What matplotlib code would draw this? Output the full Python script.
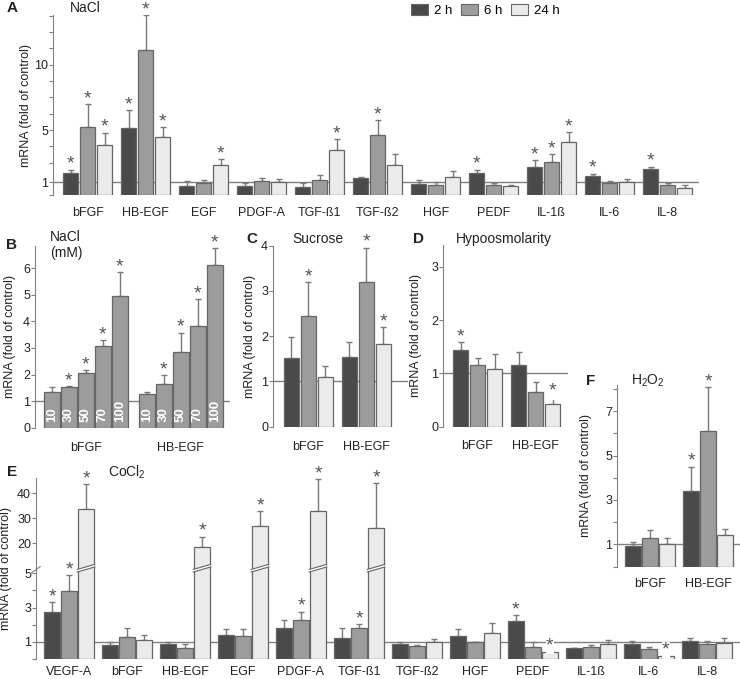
import numpy as np
import matplotlib
matplotlib.use("Agg")
import matplotlib.pyplot as plt
from matplotlib.patches import Patch, Polygon
from matplotlib.transforms import blended_transform_factory

plt.rcParams['font.family'] = ['Liberation Sans', 'DejaVu Sans']
plt.rcParams['mathtext.default'] = 'regular'

# ---- data ----
times = ['2 h', '6 h', '24 h']

a_genes = ['bFGF', 'HB-EGF', 'EGF', 'PDGF-A', 'TGF-ß1', 'TGF-ß2', 'HGF', 'PEDF', 'IL-1ß', 'IL-6', 'IL-8']
a_2h = [1.72, 5.18, 0.74, 0.74, 0.62, 1.33, 0.85, 1.72, 2.18, 1.49, 2.00]
a_2h_err = [0.25, 1.32, 0.39, 0.21, 0.30, 0.08, 0.35, 0.25, 0.52, 0.18, 0.20]
a_6h = [5.26, 11.15, 0.97, 1.08, 1.18, 4.59, 0.82, 0.82, 2.59, 0.92, 0.82]
a_6h_err = [1.74, 2.65, 0.23, 0.28, 0.36, 1.15, 0.23, 0.15, 0.54, 0.21, 0.15]
a_24h = [3.85, 4.46, 2.30, 1.05, 3.44, 2.36, 1.44, 0.72, 4.05, 1.03, 0.59]
a_24h_err = [0.95, 0.74, 0.50, 0.18, 0.84, 0.84, 0.46, 0.10, 0.77, 0.25, 0.18]
a_star_2h = [1, 1, 0, 0, 0, 0, 0, 1, 1, 1, 1]
a_star_6h = [1, 1, 0, 0, 0, 1, 0, 0, 1, 0, 0]
a_star_24h = [1, 1, 1, 0, 1, 0, 0, 0, 1, 0, 0]

b_genes = ['bFGF', 'HB-EGF']
b_doses = ['10', '30', '50', '70', '100']
b_bfgf = [1.33, 1.55, 2.04, 3.09, 4.97]
b_bfgf_err = [0.19, 0.02, 0.12, 0.22, 0.89]
b_hbegf = [1.25, 1.66, 2.86, 3.84, 6.14]
b_hbegf_err = [0.08, 0.32, 0.72, 1.01, 0.61]
b_star_bfgf = [0, 1, 1, 1, 1]
b_star_hbegf = [0, 1, 1, 1, 1]

two_genes = ['bFGF', 'HB-EGF']
c_vals = [[1.52, 1.53], [2.44, 3.19], [1.09, 1.83]]
c_errs = [[0.47, 0.34], [0.76, 0.77], [0.25, 0.38]]
c_stars = [[0, 0], [1, 1], [0, 1]]

d_vals = [[1.44, 1.15], [1.15, 0.66], [1.08, 0.42]]
d_errs = [[0.15, 0.26], [0.14, 0.18], [0.29, 0.15]]
d_stars = [[1, 0], [0, 0], [0, 1]]

f_vals = [[0.92, 3.42], [1.27, 6.09], [1.03, 1.43]]
f_errs = [[0.17, 1.08], [0.36, 1.98], [0.27, 0.25]]
f_stars = [[0, 1], [0, 1], [0, 0]]

e_genes = ['VEGF-A', 'bFGF', 'HB-EGF', 'EGF', 'PDGF-A', 'TGF-ß1', 'TGF-ß2', 'HGF', 'PEDF', 'IL-1ß', 'IL-6', 'IL-8']
e_2h = [2.72, 0.82, 0.86, 1.40, 1.81, 1.24, 0.88, 1.36, 2.19, 0.62, 0.88, 1.04]
e_2h_err = [0.58, 0.14, 0.14, 0.35, 0.48, 0.57, 0.12, 0.41, 0.35, 0.04, 0.16, 0.18]
e_6h = [3.95, 1.30, 0.62, 1.34, 2.29, 1.81, 0.74, 0.96, 0.68, 0.70, 0.56, 0.88]
e_6h_err = [0.97, 0.51, 0.24, 0.41, 0.47, 0.24, 0.08, 0.04, 0.32, 0.12, 0.12, 0.16]
e_24h = [33.6, 1.10, 18.4, 26.9, 32.9, 26.0, 0.96, 1.53, 0.41, 0.86, 0.15, 0.94]
e_24h_err = [10.0, 0.30, 4.3, 6.0, 12.7, 18.3, 0.20, 0.57, 0.06, 0.26, 0.04, 0.28]
e_star_2h = [1, 0, 0, 0, 0, 0, 0, 0, 1, 0, 0, 0]
e_star_6h = [1, 0, 0, 0, 1, 1, 0, 0, 0, 0, 0, 0]
e_star_24h = [1, 0, 1, 1, 1, 1, 0, 0, 1, 0, 1, 0]

# ---- style ----
W, H = 740, 679
COLS = ['#4a4a4a', '#9c9c9c', '#ebebeb']
EDGE = '#666666'
GRAY = '#808080'
TXT = '#222222'
STEP = 17 / 58.0      # bar pitch inside a group
BW = 15.5 / 58.0      # bar width

fig = plt.figure(figsize=(W / 100, H / 100), dpi=100)


def add_ax(l, t, r, b):
    ax = fig.add_axes([l / W, 1 - b / H, (r - l) / W, (b - t) / H])
    ax.patch.set_alpha(0)
    for s in ['top', 'right', 'bottom']:
        ax.spines[s].set_visible(False)
    ax.spines['left'].set_color(GRAY)
    ax.tick_params(axis='y', direction='out', length=2.6, pad=1, color=GRAY,
                   labelsize=9, labelcolor=TXT, width=0.8)
    ax.tick_params(axis='x', length=0, labelsize=9, labelcolor=TXT)
    return ax


def star(ax, x, top, bg=False):
    t = ax.annotate('*', (x, top), xytext=(0, 0.5), textcoords='offset points',
                    ha='center', va='baseline', fontsize=14, color='#555555', zorder=6)
    if bg:
        t.set_bbox(dict(facecolor='white', edgecolor='none', pad=0.2))


def bars(ax, x, vals, errs, color, stars=None):
    ax.bar(x, vals, width=BW, color=color, edgecolor=EDGE, linewidth=0.9, zorder=3)
    ax.errorbar(x, vals, yerr=[np.zeros(len(vals)), errs], fmt='none',
                ecolor='#7a7a7a', elinewidth=1, capsize=2.5, capthick=1, zorder=2)
    if stars is not None:
        for xi, v, e, s in zip(x, vals, errs, stars):
            if s:
                star(ax, xi, v + e, bg=(v + e) < 1.3)


def panel_text(ax, letter, title, xl, tl, y):
    fig.text(xl / W, 1 - y / H, letter, fontsize=11, fontweight='bold', va='center', ha='left', color=TXT)
    fig.text(tl / W, 1 - y / H, title, fontsize=10, va='center', ha='left', color=TXT)


def ylab(ax, xpx, l, r):
    # label anchor is its right edge once rotated
    ax.set_ylabel('mRNA (fold of control)', fontsize=9, color=TXT)
    ax.yaxis.set_label_coords((xpx + 4.5 - l) / (r - l), 0.5)


# ---- panel A ----
axA = add_ax(53, 15, 699, 195.4)
g = np.arange(len(a_genes))
for k, (v, e, s) in enumerate([(a_2h, a_2h_err, a_star_2h), (a_6h, a_6h_err, a_star_6h),
                                (a_24h, a_24h_err, a_star_24h)]):
    bars(axA, g + (k - 1) * STEP, v, e, COLS[k], s)
axA.axhline(1, color=GRAY, lw=1, zorder=1)
axA.set_xlim(-0.598, 10.54)
axA.set_ylim(0, 13.8)
axA.set_yticks([0, 1, 2.5, 3.75, 5, 6.25, 7.5, 8.75, 10, 11.25, 12.5, 13.75])
axA.set_yticklabels(['', '1', '', '', '5', '', '', '', '10', '', '', ''])
axA.set_xticks(g)
axA.set_xticklabels(a_genes)
axA.tick_params(axis='x', pad=8)
ylab(axA, 28, 53, 699)
panel_text(axA, 'A', 'NaCl', 7, 70, 8)

fig.legend([Patch(facecolor=c, edgecolor=EDGE, linewidth=0.8) for c in COLS], times,
           loc='upper left', bbox_to_anchor=(408 / W, 1 - 1 / H), ncol=3, frameon=False,
           fontsize=9.5, handlelength=1.3, handleheight=0.9, handletextpad=0.5,
           columnspacing=0.6, borderaxespad=0, borderpad=0.2)

# ---- panel B ----
axB = add_ax(35, 245.7, 230, 427.7)
G = 5.59
xb = np.arange(5)
for gi, (v, e, s) in enumerate([(b_bfgf, b_bfgf_err, b_star_bfgf), (b_hbegf, b_hbegf_err, b_star_hbegf)]):
    xs = xb + gi * G
    axB.bar(xs, v, width=15.6 / 17, color=COLS[1], edgecolor=EDGE, linewidth=0.9, zorder=3)
    axB.errorbar(xs, v, yerr=[np.zeros(5), e], fmt='none', ecolor='#7a7a7a',
                 elinewidth=1, capsize=2.5, capthick=1, zorder=2)
    for xi, vi, ei, si, d in zip(xs, v, e, s, b_doses):
        if si:
            star(axB, xi, vi + ei)
        axB.text(xi, 0.2, d, rotation=90, ha='center', va='bottom', color='white',
                 fontsize=9.5, fontweight='bold', zorder=5)
axB.axhline(1, color=GRAY, lw=1, zorder=1)
axB.set_xlim(-0.99, 10.48)
axB.set_ylim(0, 6.85)
axB.set_yticks(range(7))
axB.set_xticks([2, 2 + G])
axB.set_xticklabels(b_genes)
axB.tick_params(axis='x', pad=10)
ylab(axB, 12, 35, 230)
panel_text(axB, 'B', 'NaCl\n(mM)', 6, 50, 245)


def small_panel(ax, vals, errs, stars):
    gg = np.arange(2)
    for k in range(3):
        bars(ax, gg + (k - 1) * STEP, vals[k], errs[k], COLS[k], stars[k])
    ax.axhline(1, color=GRAY, lw=1, zorder=1)
    ax.set_xticks(gg)
    ax.set_xticklabels(two_genes)


# ---- panel C ----
axC = add_ax(273, 245.7, 408, 426.7)
small_panel(axC, c_vals, c_errs, c_stars)
axC.set_xlim(-0.612, 1.716)
axC.set_ylim(0, 4)
axC.set_yticks(range(5))
axC.tick_params(axis='x', pad=10)
ylab(axC, 252, 273, 408)
panel_text(axC, 'C', 'Sucrose', 246, 292, 239)

# ---- panel D ----
axD = add_ax(443, 245, 567.7, 426.7)
small_panel(axD, d_vals, d_errs, d_stars)
axD.set_xlim(-0.595, 1.555)
axD.set_ylim(0, 3.41)
axD.set_yticks(range(4))
axD.tick_params(axis='x', pad=9.5)
ylab(axD, 418, 443, 567.7)
panel_text(axD, 'D', 'Hypoosmolarity', 413, 456, 239)

# ---- panel F ----
axF = add_ax(617, 385, 740, 566.5)
small_panel(axF, f_vals, f_errs, f_stars)
axF.set_xlim(-0.569, 1.552)
axF.set_ylim(0, 8.18)
axF.set_yticks(range(9))
axF.set_yticklabels(['', '1', '', '3', '', '5', '', '7', ''])
axF.tick_params(axis='x', pad=8.5)
ylab(axF, 588, 617, 740)
panel_text(axF, 'F', 'H$_2$O$_2$', 586, 631, 381)

# ---- panel E (broken axis) ----
xp = [0, 5, 10, 60]
fp = [0, 5, 5.292, 6.754 + 40 * 0.1462]


def fwd(v):
    return np.interp(v, xp, fp)


def inv(t):
    return np.interp(t, fp, xp)


axE = add_ax(36, 477.7, 740, 658.8)
axE.set_yscale('function', functions=(fwd, inv))
ge = np.arange(len(e_genes))
for k, (v, e, s) in enumerate([(e_2h, e_2h_err, e_star_2h), (e_6h, e_6h_err, e_star_6h),
                                (e_24h, e_24h_err, e_star_24h)]):
    bars(axE, ge + (k - 1) * STEP, v, e, COLS[k], s)
axE.axhline(1, color=GRAY, lw=1, zorder=1)
ytop = 46.3
axE.set_xlim(-0.569, 11.57)
axE.set_ylim(0, ytop)
axE.set_yticks([0, 1, 2, 3, 4, 5, 20, 30, 40])
axE.set_yticklabels(['', '1', '', '3', '', '5', '20', '30', '40'])
axE.yaxis.set_minor_locator(matplotlib.ticker.NullLocator())
axE.set_xticks(ge)
axE.set_xticklabels(e_genes)
axE.tick_params(axis='x', pad=5)
ylab(axE, 7, 36, 740)
panel_text(axE, 'E', 'CoCl$_2$', 7, 108, 472)

# break marks on tall bars and on the spine
tr = blended_transform_factory(axE.transData, axE.transAxes)
ttop = float(fwd(ytop))
ya = 5.08 / ttop
rise = 5.0 / 181.1
gap = 2.6 / 181.1
ext = 1.0 / 58
for xc, v in zip(ge + STEP, e_24h):
    if v > 10:
        x0, x1 = xc - BW / 2 - ext, xc + BW / 2 + ext
        poly = Polygon([(x0, ya), (x1, ya + rise), (x1, ya + rise + gap), (x0, ya + gap)],
                       closed=True, facecolor='white', edgecolor='none', transform=tr, zorder=4)
        axE.add_patch(poly)
        axE.plot([x0, x1], [ya, ya + rise], color=EDGE, lw=0.8, transform=tr, zorder=4)
        axE.plot([x0, x1], [ya + gap, ya + rise + gap], color=EDGE, lw=0.8, transform=tr, zorder=4)
axE.plot([-0.008, 0.006], [ya - 0.01, ya + 0.03], color=GRAY, lw=0.8,
         transform=axE.transAxes, clip_on=False, zorder=4)

fig.savefig('out.png', dpi=100)
